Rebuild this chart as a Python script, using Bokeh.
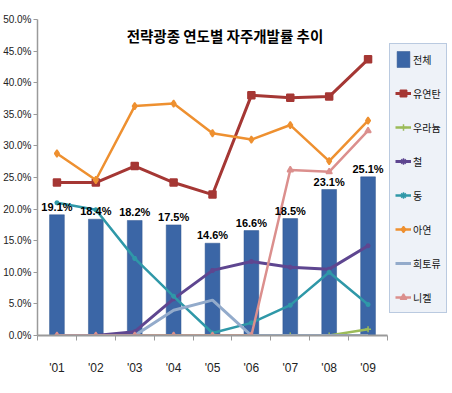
import numpy as np
from bokeh.plotting import figure
from bokeh.models import (ColumnDataSource, Range1d, FixedTicker, SingleIntervalTicker,
                          PrintfTickFormatter, Legend, LegendItem, Label, LabelSet)
from bokeh.core.properties import value
from bokeh.embed import file_html
from bokeh.resources import INLINE

# ---- data ----
years = ["'01", "'02", "'03", "'04", "'05", "'06", "'07", "'08", "'09"]
total = [19.1, 18.4, 18.2, 17.5, 14.6, 16.6, 18.5, 23.1, 25.1]
coal = [24.2, 24.2, 26.8, 24.2, 22.3, 38.0, 37.6, 37.8, 43.7]
uranium = [0, 0, 0, 0, 0, 0, 0, 0, 1.0]
iron = [0, 0, 0.6, 5.8, 10.3, 11.7, 10.8, 10.5, 14.2]
copper = [21.0, 19.9, 12.2, 6.2, 0.4, 2.0, 4.8, 10.0, 4.9]
zinc = [28.8, 24.6, 36.3, 36.7, 32.0, 31.0, 33.3, 27.6, 34.0]
rare_earth = [0, 0, 0, 4.0, 5.6, 0, 0, 0, 0]
nickel = [0, 0, 0, 0, 0, 0, 26.2, 25.9, 32.4]
series_names = ["전체", "유연탄", "우라늄", "철", "동", "아연", "희토류", "니켈"]
title_text = "전략광종 연도별 자주개발률 추이"

NUM = "'Liberation Sans', sans-serif"
KR = "'Noto Sans CJK KR', sans-serif"

idx = np.arange(len(years))
xpos = idx + 0.5

src = ColumnDataSource(dict(
    x=xpos, total=total, coal=coal, uranium=uranium, iron=iron, copper=copper,
    zinc=zinc, rare=rare_earth, nickel=nickel,
    lbl=[f"{v:.1f}%" for v in total],
))

p = figure(frame_width=350, frame_height=316, min_border_left=30, min_border_right=0,
           min_border_top=19, min_border_bottom=42,
           x_range=Range1d(0, len(years)), y_range=Range1d(0, 50),
           output_backend="svg", toolbar_location=None,
           background_fill_color="white", border_fill_color="white")
p.outline_line_color = None
p.xgrid.visible = False
p.ygrid.visible = False

# axes
AX = "#9A9A9A"
p.yaxis.ticker = SingleIntervalTicker(interval=5)
p.yaxis.formatter = PrintfTickFormatter(format="%.1f%%")
p.yaxis.axis_line_color = AX
p.yaxis.axis_line_width = 1.5
p.yaxis.major_tick_line_color = AX
p.yaxis.major_tick_out = 4
p.yaxis.major_tick_in = 0
p.yaxis.minor_tick_line_color = None
p.yaxis.major_label_text_font = NUM
p.yaxis.major_label_text_font_size = "10px"
p.yaxis.major_label_text_color = "#222222"
p.yaxis.major_label_standoff = 2

p.xaxis.ticker = FixedTicker(ticks=list(xpos), minor_ticks=list(np.arange(len(years) + 1)))
p.xaxis.major_label_overrides = {float(x): y for x, y in zip(xpos, years)}
p.xaxis.axis_line_color = AX
p.xaxis.axis_line_width = 2
p.xaxis.major_tick_line_color = None
p.xaxis.major_tick_out = 0
p.xaxis.major_tick_in = 0
p.xaxis.minor_tick_line_color = AX
p.xaxis.minor_tick_out = 5
p.xaxis.minor_tick_in = 0
p.xaxis.major_label_standoff = 20
p.xaxis.major_label_text_font = NUM
p.xaxis.major_label_text_font_size = "12px"
p.xaxis.major_label_text_color = "#222222"

# bars
bars = p.vbar(x="x", top="total", width=0.38, source=src, fill_color="#3B66A6",
              line_color="#2E558F", line_width=0.5)

labels = LabelSet(x="x", y="total", text="lbl", source=src, text_align="center",
                  text_baseline="bottom", y_offset=2, text_font=value(NUM),
                  text_font_size="11px", text_font_style="bold", text_color="black")
p.add_layout(labels)

items = [LegendItem(label=series_names[0], renderers=[bars])]

specs = [
    ("coal", "#A53734", 3, "square", 7),
    ("uranium", "#9BBB59", 2.5, "cross", 6),
    ("iron", "#5E4690", 3, "asterisk", 5),
    ("copper", "#2F98A8", 2.5, "asterisk", 5),
    ("zinc", "#EE9030", 2.5, "diamond", 7),
    ("rare", "#93ABCB", 3, None, 0),
    ("nickel", "#DB8F8D", 2.5, "triangle", 6),
]
for (col, color, lw, marker, size), name in zip(specs, series_names[1:]):
    r = [p.line("x", col, source=src, line_color=color, line_width=lw)]
    if marker:
        r.append(p.scatter("x", col, source=src, marker=marker, size=size,
                           fill_color=color, line_color=color, line_width=1.5))
    items.append(LegendItem(label=name, renderers=r))

legend = Legend(items=items, location=(2, 22), orientation="vertical",
                glyph_height=20, glyph_width=16, label_height=20, spacing=14,
                padding=5, margin=0, label_standoff=2,
                label_text_font=KR, label_text_font_size="10px",
                label_text_color="#111111",
                background_fill_color="#EEF2F8", background_fill_alpha=1,
                border_line_color="#86A2C8", border_line_width=1.5)
p.add_layout(legend, "right")

title = Label(x=4.82, y=47.5, text=title_text, text_align="center", text_baseline="middle",
              text_font=KR, text_font_size="14.5px", text_font_style="bold",
              text_color="black")
p.add_layout(title)

open("out.html", "w").write(file_html(p, INLINE))
